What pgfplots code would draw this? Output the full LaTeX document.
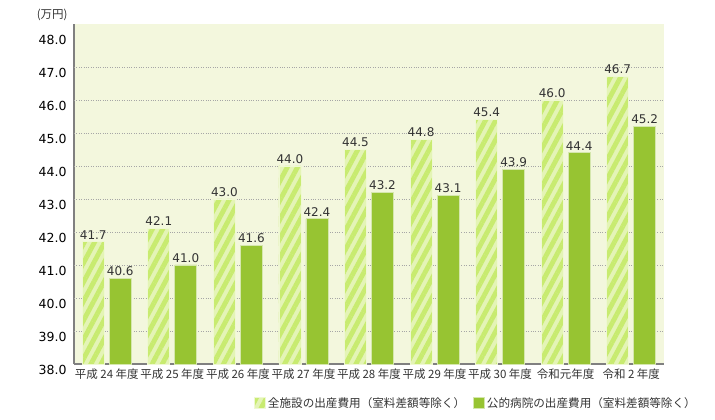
\documentclass[border=0pt]{standalone}
\usepackage{pgfplots}
\pgfplotsset{compat=1.18}
\usepackage{fontspec}
\setmainfont{DejaVu Sans}
\newfontfamily\jp{Noto Sans CJK JP}
\usetikzlibrary{patterns.meta}
\definecolor{plotbg}{HTML}{F3F7DD}
\definecolor{hatchbase}{HTML}{E4F4B6}
\definecolor{stripe}{HTML}{C8EB70}
\definecolor{solidbar}{HTML}{97C432}
\definecolor{txt}{HTML}{333333}
\definecolor{axisgray}{HTML}{808080}
\newcommand{\yr}[2]{{\jp #1\hspace{2.5bp}#2\hspace{2.5bp}年度}}
\begin{document}
\begin{tikzpicture}
\useasboundingbox (0,0) rectangle (715bp,420bp);
\begin{axis}[
  at={(74bp,56bp)}, anchor=south west,
  scale only axis, width=590bp, height=340bp,
  ybar=5bp, bar width=22bp,
  xmin=-0.5, xmax=8.5, ymin=38, ymax=48.3,
  xtick=data,
  xticklabels={\yr{平成}{24},\yr{平成}{25},\yr{平成}{26},\yr{平成}{27},\yr{平成}{28},\yr{平成}{29},\yr{平成}{30},{\jp 令和元年度},\yr{令和}{2}},
  ytick={38,39,...,48},
  /pgf/number format/fixed, /pgf/number format/fixed zerofill,
  /pgf/number format/precision=1, /pgf/number format/assume math mode=true,
  yticklabel style={yshift=-6bp, font=\fontsize{12.5bp}{14bp}\selectfont, text=black, xshift=-4bp},
  xticklabel style={font=\fontsize{11.5bp}{14bp}\selectfont, text=txt, yshift=-1bp},
  major tick length=0pt,
  axis x line*=bottom, axis y line*=left,
  axis line style={axisgray, line width=1.6bp, -},
  axis background/.style={fill=plotbg},
  extra y ticks={39,40,...,47}, extra y tick labels={},
  extra y tick style={ymajorgrids=true},
  grid style={gray!70, dotted, line width=0.6bp},
  nodes near coords,
  every node near coord/.append style={font=\fontsize{12bp}{14bp}\selectfont, text=txt, yshift=-1bp},
  legend style={at={(0.30,-0.115)}, anchor=west, draw=none, fill=none,
    legend columns=2, font=\fontsize{11.6bp}{14bp}\jp\selectfont, text=txt,
    /tikz/every even column/.append style={column sep=6bp}},
  legend image code/.code={\draw[#1] (0bp,-5.5bp) rectangle (11bp,5.5bp);},
  clip=false,
]
\addplot[fill=hatchbase, draw=hatchbase!60!white, line width=0.8bp,
  postaction={pattern={Lines[angle=62,distance=9bp,line width=4.8bp]}, pattern color=stripe}]
  coordinates {(0,41.7) (1,42.1) (2,43.0) (3,44.0) (4,44.5) (5,44.8) (6,45.4) (7,46.0) (8,46.7)};
\addplot[fill=solidbar, draw=solidbar!40!white, line width=0.8bp]
  coordinates {(0,40.6) (1,41.0) (2,41.6) (3,42.4) (4,43.2) (5,43.1) (6,43.9) (7,44.4) (8,45.2)};
\legend{全施設の出産費用（室料差額等除く）,公的病院の出産費用（室料差額等除く）}
\node[font=\fontsize{11.5bp}{14bp}\jp\selectfont, text=txt] at (rel axis cs:-0.037,1.026) {(万円)};
\end{axis}
\end{tikzpicture}
\end{document}
